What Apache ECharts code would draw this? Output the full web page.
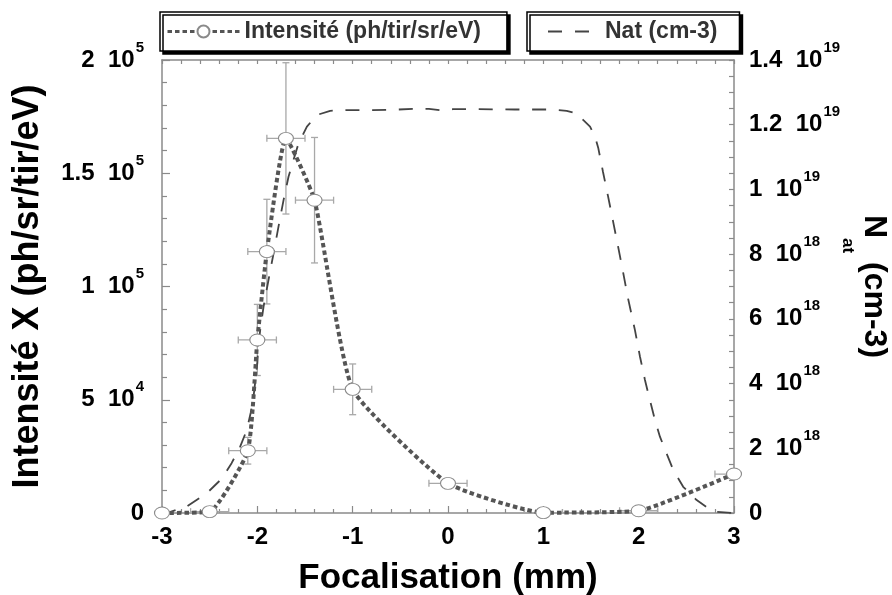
<!DOCTYPE html>
<html><head><meta charset="utf-8">
<script src="https://cdn.jsdelivr.net/npm/echarts@6/dist/echarts.min.js"></script>
<style>html,body{margin:0;padding:0;background:#fff;overflow:hidden;width:892px;height:595px}#c{width:892px;height:595px;display:block}</style>
</head><body><div id="c"></div>
<script>
// ---- data ----
const focal      = [-3, -2.5, -2.1, -2.0, -1.9, -1.7, -1.4, -1.0, 0, 1, 2, 3];
const intensity  = [0, 600, 27500, 76400, 115400, 165400, 138100, 54600, 13100, 150, 1000, 17200];
const errFocal   = [0, 0.2, 0.2, 0.2, 0.2, 0.2, 0.2, 0.2, 0.2, 0.2, 0.2, 0.2];
const errIntens  = [0, 0, 5900, 15700, 23100, 33400, 27700, 11200, 0, 0, 0, 0];

const natX   = [-3.0, -2.95, -2.74, -2.53, -2.37, -2.27, -2.18, -2.11, -2.07, -2.04, -2.02, -2.0, -1.99, -1.97,
                -1.935, -1.883, -1.83, -1.778, -1.725, -1.673, -1.621, -1.568, -1.48, -1.375, -1.236, -1.061,
                -0.92, -0.6, -0.35, -0.2, -0.05, 0.05, 0.3, 0.7, 1.1, 1.245, 1.35, 1.42, 1.49, 1.542, 1.577,
                1.626, 1.678, 1.731, 1.783, 1.836, 1.888, 1.961, 2.014, 2.066, 2.118, 2.171, 2.223, 2.293,
                2.363, 2.467, 2.608, 2.782, 2.992];
const natE18 = [0, 0.0, 0.2, 0.61, 1.07, 1.54, 2.05, 2.57, 3.09, 3.59, 4.11, 4.63, 5.14, 5.65,
                6.37, 7.2, 8.02, 8.85, 9.67, 10.39, 10.91, 11.42, 11.94, 12.3, 12.43, 12.45,
                12.45, 12.46, 12.49, 12.49, 12.44, 12.48, 12.48, 12.47, 12.47, 12.43, 12.35, 12.14, 11.94, 11.63, 11.27,
                10.54, 9.8, 9.02, 8.25, 7.45, 6.64, 5.65, 4.83, 4.11, 3.49, 2.87, 2.36, 1.84,
                1.33, 0.81, 0.4, 0.04, 0];

const xTicks = [-3, -2, -1, 0, 1, 2, 3];
const leftTickValues   = [0, 50000, 100000, 150000, 200000];
const leftTickMantissa = ['0', '5', '1', '1.5', '2'];
const leftTickExponent = ['', '4', '5', '5', '5'];
const rightTickValues   = [0, 2, 4, 6, 8, 10, 12, 14];
const rightTickMantissa = ['0', '2', '4', '6', '8', '1', '1.2', '1.4'];
const rightTickExponent = ['', '18', '18', '18', '18', '19', '19', '19'];

const nameIntens = 'Intensité (ph/tir/sr/eV)';
const nameNat = 'Nat (cm-3)';

// ---- chart ----
const FF = 'Liberation Sans';
const frame = '#8a8a8a';
const richTick = {
  m: {fontFamily: FF, fontSize: 24, fontWeight: 'bold', color: '#000'},
  s: {fontFamily: FF, fontSize: 15, fontWeight: 'bold', color: '#000', padding: [0, 0, 25, 1]}
};
function sciLabel(vals, mant, expo) {
  return function (v) {
    let i = vals.findIndex(t => Math.abs(t - v) < 1e-9 * Math.max(1, Math.abs(t)));
    if (i < 0) return '';
    return expo[i] ? '{m|' + mant[i] + '  10}{s|' + expo[i] + '}' : '{m|' + mant[i] + '}';
  };
}

const chart = echarts.init(document.getElementById('c'), null, {renderer: 'canvas', width: 892, height: 595});
const legendCommon = {
  top: 12, orient: 'horizontal', selectedMode: false,
  backgroundColor: '#fff', borderColor: '#000', borderWidth: 1.5, borderRadius: 0,
  shadowColor: '#000', shadowBlur: 0, shadowOffsetX: 3, shadowOffsetY: 3,
  textStyle: {fontFamily: FF, fontWeight: 'bold', fontSize: 23, color: '#333'}
};
chart.setOption({
  animation: false,
  backgroundColor: '#fff',
  textStyle: {fontFamily: FF},
  grid: {left: 162, right: 158, top: 60, bottom: 82, containLabel: false, outerBoundsMode: 'none'},
  legend: [
    Object.assign({}, legendCommon, {
      left: 160, padding: [8, 26, 8, 6], itemWidth: 72, itemHeight: 15,
      lineStyle: {width: 3},
      data: [{name: nameIntens}]
    }),
    Object.assign({}, legendCommon, {
      left: 527, padding: [8, 22, 8, 21], itemWidth: 52, itemHeight: 2,
      data: [{name: nameNat, icon: 'path://M0,0H14V2H0Z M27,0H41V2H27Z M52,0L52,2'}]
    })
  ],
  xAxis: [{
    type: 'value', min: -3, max: 3, interval: 1, position: 'bottom',
    axisLine: {show: true, onZero: false, lineStyle: {color: frame, width: 1.5}},
    axisTick: {show: true, inside: true, length: 7, lineStyle: {color: frame, width: 1.2}},
    minorTick: {show: true, splitNumber: 5, length: 4, lineStyle: {color: frame, width: 1.2}},
    splitLine: {show: false},
    axisLabel: {margin: 12, fontFamily: FF, fontSize: 24, fontWeight: 'bold', color: '#000',
      formatter: v => (xTicks.indexOf(v) >= 0 ? String(v) : '')},
    name: 'Focalisation (mm)', nameLocation: 'middle', nameGap: 48, nameMoveOverlap: false,
    nameTextStyle: {fontFamily: FF, fontSize: 35, fontWeight: 'bold', color: '#000'}
  }, {
    type: 'value', min: -3, max: 3, interval: 1, position: 'top',
    axisLine: {show: true, onZero: false, lineStyle: {color: frame, width: 1.5}},
    axisTick: {show: true, inside: true, length: 4, lineStyle: {color: frame, width: 1.2}},
    minorTick: {show: true, splitNumber: 5, length: 4, lineStyle: {color: frame, width: 1.2}},
    splitLine: {show: false}, axisLabel: {show: false}
  }],
  yAxis: [{
    type: 'value', min: 0, max: 200000, interval: 50000, position: 'left',
    axisLine: {show: true, onZero: false, lineStyle: {color: frame, width: 1.5}},
    axisTick: {show: true, inside: true, length: 8, lineStyle: {color: frame, width: 1.2}},
    minorTick: {show: true, splitNumber: 5, length: 5, lineStyle: {color: frame, width: 1.2}},
    splitLine: {show: false},
    axisLabel: {margin: 18, formatter: sciLabel(leftTickValues, leftTickMantissa, leftTickExponent), rich: richTick},
    name: 'Intensité X (ph/sr/tir/eV)', nameLocation: 'middle', nameGap: 116, nameMoveOverlap: false,
    nameTextStyle: {fontFamily: FF, fontSize: 36, fontWeight: 'bold', color: '#000'}
  }, {
    type: 'value', min: 0, max: 14, interval: 2, position: 'right',
    axisLine: {show: true, onZero: false, lineStyle: {color: frame, width: 1.5}},
    axisTick: {show: true, inside: true, length: 5, lineStyle: {color: frame, width: 1.2}},
    minorTick: {show: true, splitNumber: 4, length: 5, lineStyle: {color: frame, width: 1.2}},
    splitLine: {show: false},
    axisLabel: {margin: 15, formatter: sciLabel(rightTickValues, rightTickMantissa, rightTickExponent), rich: richTick},
    name: '{n|N}{s|at}{n| (cm-3)}', nameLocation: 'middle', nameGap: 105, nameRotate: -90, nameMoveOverlap: false,
    nameTextStyle: {
      rich: {
        n: {fontFamily: FF, fontSize: 32, fontWeight: 'bold', color: '#000', verticalAlign: 'top'},
        s: {fontFamily: FF, fontSize: 17, fontWeight: 'bold', color: '#000', padding: [34, 0, 0, 0], verticalAlign: 'bottom'}
      }
    }
  }],
  series: [{
    name: 'errbars', type: 'custom', xAxisIndex: 0, yAxisIndex: 0, z: 1, clip: true,
    renderItem: function (params, api) {
      const x = api.value(0), y = api.value(1), ex = api.value(2), ey = api.value(3);
      const st = {stroke: '#a8a8a8', lineWidth: 1.3};
      const ch = [];
      const cap = 3.5;
      if (ex > 0) {
        const l = api.coord([x - ex, y]), r = api.coord([x + ex, y]);
        ch.push({type: 'line', shape: {x1: l[0], y1: l[1], x2: r[0], y2: r[1]}, style: st});
        ch.push({type: 'line', shape: {x1: l[0], y1: l[1] - cap, x2: l[0], y2: l[1] + cap}, style: st});
        ch.push({type: 'line', shape: {x1: r[0], y1: r[1] - cap, x2: r[0], y2: r[1] + cap}, style: st});
      }
      if (ey > 0) {
        const t = api.coord([x, y + ey]), b = api.coord([x, y - ey]);
        ch.push({type: 'line', shape: {x1: t[0], y1: t[1], x2: b[0], y2: b[1]}, style: st});
        ch.push({type: 'line', shape: {x1: t[0] - cap, y1: t[1], x2: t[0] + cap, y2: t[1]}, style: st});
        ch.push({type: 'line', shape: {x1: b[0] - cap, y1: b[1], x2: b[0] + cap, y2: b[1]}, style: st});
      }
      return {type: 'group', children: ch};
    },
    data: focal.map((x, i) => [x, intensity[i], errFocal[i], errIntens[i]])
  }, {
    name: nameNat, type: 'line', xAxisIndex: 0, yAxisIndex: 1, z: 2, clip: false,
    symbol: 'none', smooth: false, color: '#444',
    lineStyle: {color: '#444', width: 1.8, type: [14, 12.7]},
    data: natX.map((x, i) => [x, natE18[i]])
  }, {
    name: nameIntens, type: 'line', xAxisIndex: 0, yAxisIndex: 0, z: 3, clip: false,
    smooth: 0.15, symbol: 'circle', symbolSize: [15, 12], showAllSymbol: true, color: '#555',
    lineStyle: {color: '#555', width: 4, type: [4.5, 3]},
    itemStyle: {color: '#fff', borderColor: '#8a8a8a', borderWidth: 1},
    data: focal.map((x, i) => [x, intensity[i]])
  }]
});
</script></body></html>
